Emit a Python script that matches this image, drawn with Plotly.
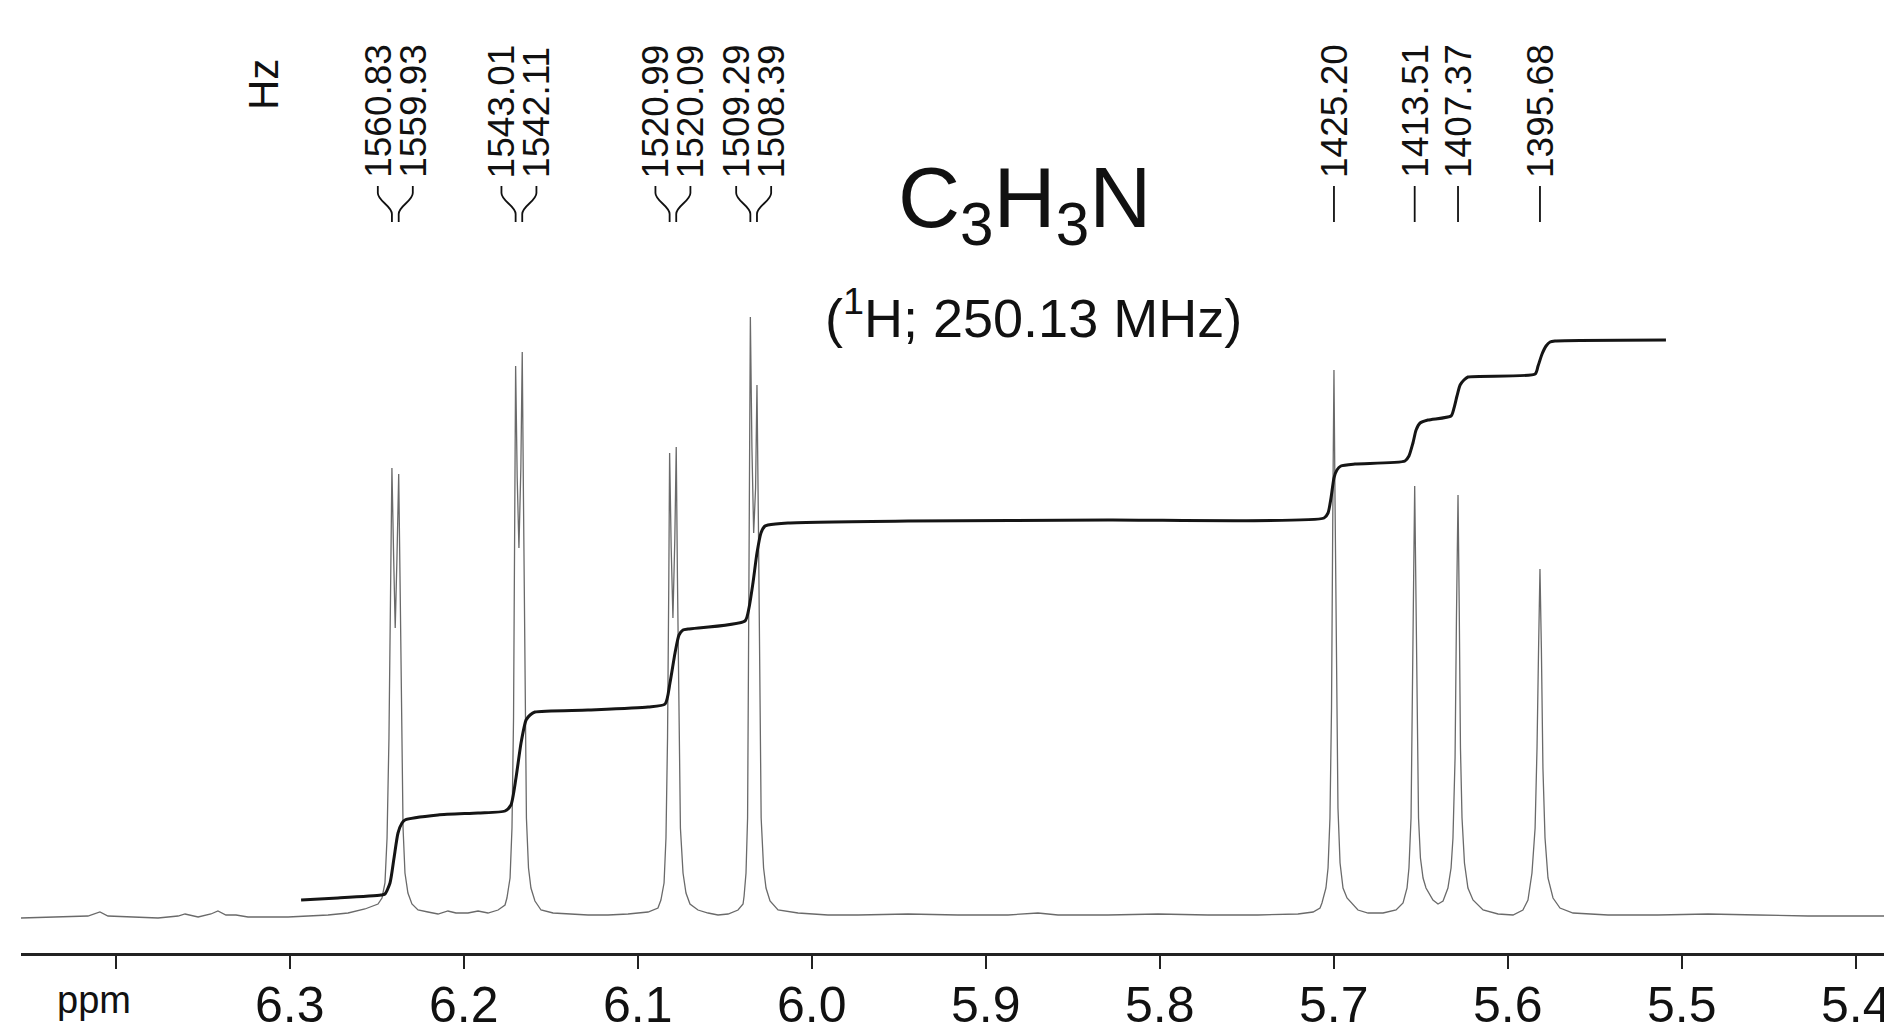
import plotly.graph_objects as go

# ---------------- data ----------------
# 1H spectrum trace: chemical shift (ppm) and intensity (arbitrary units, baseline = 0)
spectrum_ppm = [
    6.4548, 6.4278, 6.4163, 6.4094, 6.4048, 6.3760, 6.3645, 6.3605, 6.3530, 6.3456,
    6.3416, 6.3370, 6.3312, 6.3243, 6.3013, 6.2898, 6.2783, 6.2668, 6.2571, 6.2496,
    6.2473, 6.2456, 6.2444, 6.2433, 6.2424, 6.2416, 6.2406, 6.2397, 6.2387, 6.2377,
    6.2368, 6.2360, 6.2352, 6.2341, 6.2324, 6.2301, 6.2266,
    6.2209, 6.2151, 6.2094, 6.2048, 6.1979, 6.1921, 6.1864, 6.1806, 6.1766,
    6.1755, 6.1737, 6.1726, 6.1717, 6.1710, 6.1705, 6.1696, 6.1686, 6.1675, 6.1667,
    6.1660, 6.1651, 6.1643, 6.1631, 6.1617, 6.1594, 6.1559,
    6.1490, 6.1404, 6.1289, 6.1174, 6.1059, 6.0944, 6.0887,
    6.0870, 6.0852, 6.0841, 6.0832, 6.0825, 6.0820, 6.0811, 6.0801, 6.0790, 6.0782,
    6.0775, 6.0766, 6.0758, 6.0743, 6.0726, 6.0703, 6.0657,
    6.0599, 6.0542, 6.0484, 6.0427, 6.0398,
    6.0392, 6.0381, 6.0372, 6.0367, 6.0361, 6.0356, 6.0347, 6.0337, 6.0326, 6.0318,
    6.0310, 6.0302, 6.0294, 6.0280, 6.0266, 6.0243, 6.0197,
    6.0082, 5.9910, 5.9737, 5.9450, 5.9163, 5.8875, 5.8703, 5.8588, 5.8301, 5.8013,
    5.7726, 5.7439, 5.7209, 5.7122, 5.7082,
    5.7071, 5.7048, 5.7036, 5.7025, 5.7016, 5.7008, 5.7002, 5.6996, 5.6987, 5.6979,
    5.6967, 5.6950, 5.6927, 5.6893,
    5.6864, 5.6806, 5.6720, 5.6645, 5.6605, 5.6582,
    5.6571, 5.6559, 5.6551, 5.6544, 5.6538, 5.6532, 5.6525, 5.6516, 5.6505, 5.6490,
    5.6473, 5.6456,
    5.6433, 5.6404, 5.6375, 5.6347, 5.6329,
    5.6318, 5.6306, 5.6298, 5.6289, 5.6282, 5.6275, 5.6266, 5.6252, 5.6232, 5.6203,
    5.6145, 5.6059, 5.5973, 5.5916, 5.5887,
    5.5864, 5.5846, 5.5835, 5.5826, 5.5818, 5.5810, 5.5801, 5.5789, 5.5772, 5.5743,
    5.5703, 5.5628, 5.5427, 5.5140, 5.4852, 5.4565, 5.4278, 5.3990, 5.3749,
]
spectrum_int = [
    0, 1, 2, 6, 2, 0, 2, 4, 1, 4,
    7, 3, 3, 1, 1, 2, 3, 5, 9, 14,
    20, 35, 80, 180, 330, 450, 360, 290, 360, 444,
    320, 170, 90, 45, 25, 14, 8,
    6, 4, 7, 5, 5, 7, 5, 8, 13,
    20, 40, 90, 200, 370, 552, 440, 370, 450, 566,
    420, 220, 100, 50, 30, 17, 8,
    5, 4, 3, 3, 4, 6, 10,
    18, 35, 80, 180, 330, 465, 370, 300, 380, 471,
    340, 180, 90, 45, 25, 14, 8,
    5, 3, 4, 8, 14,
    22, 45, 100, 250, 420, 601, 470, 385, 430, 533,
    400, 200, 100, 50, 30, 17, 8,
    5, 3, 3, 4, 3, 3, 5, 3, 3, 4,
    3, 3, 4, 6, 10,
    15, 30, 50, 100, 210, 420, 548, 420, 220, 110,
    55, 30, 20, 14,
    8, 5, 5, 8, 15, 30,
    50, 100, 200, 340, 432, 330, 180, 100, 60, 40,
    30, 25,
    18, 14, 17, 30, 50,
    80, 160, 300, 423, 310, 170, 100, 55, 30, 18,
    8, 4, 3, 8, 18,
    45, 90, 170, 270, 349, 270, 150, 80, 40, 20,
    10, 5, 3, 3, 4, 3, 2, 2, 2,
]

# integral trace
integral_ppm = [
    6.2938, 6.2726, 6.2479, 6.2456, 6.2427, 6.2404, 6.2381, 6.2358, 6.2341, 6.2151,
    6.1921, 6.1766, 6.1732, 6.1703, 6.1674, 6.1645, 6.1622, 6.1594, 6.1289, 6.0944,
    6.0846, 6.0818, 6.0789, 6.0766, 6.0743, 6.0714, 6.0387, 6.0364, 6.0341, 6.0318,
    6.0295, 6.0272, 6.0255, 6.0140, 5.9450, 5.8301, 5.7059, 5.7036, 5.7019, 5.7002,
    5.6985, 5.6962, 5.6881, 5.6594, 5.6571, 5.6548, 5.6530, 5.6507, 5.6462, 5.6329,
    5.6312, 5.6295, 5.6277, 5.6255, 5.6232, 5.5846, 5.5829, 5.5806, 5.5783, 5.5760,
    5.5732, 5.5094,
]
integral_int = [
    18, 20, 23, 24, 35, 60, 85, 95, 98, 103,
    105, 107, 113, 140, 175, 198, 203, 206, 208, 211,
    214, 235, 265, 283, 288, 289, 297, 310, 335, 365,
    385, 392, 393, 395, 397, 398, 400, 405, 420, 440,
    448, 452, 454, 457, 462, 475, 488, 495, 498, 502,
    510, 522, 533, 538, 541, 544, 552, 564, 572, 576,
    577, 578,
]

# peak list (labels in Hz) and their positions on the ppm scale
peak_hz = ["1560.83", "1559.93", "1543.01", "1542.11", "1520.99", "1520.09",
           "1509.29", "1508.39", "1425.20", "1413.51", "1407.37", "1395.68"]
peak_ppm = [6.2416, 6.2377, 6.1705, 6.1667, 6.0820, 6.0782,
            6.0356, 6.0318, 5.7002, 5.6538, 5.6289, 5.5818]
peak_group = [0, 0, 1, 1, 2, 2, 3, 3, 4, 5, 6, 7]

tick_vals = [6.4, 6.3, 6.2, 6.1, 6.0, 5.9, 5.8, 5.7, 5.6, 5.5, 5.4]
tick_text = ["", "6.3", "6.2", "6.1", "6.0", "5.9", "5.8", "5.7", "5.6", "5.5", "5.4"]

title_text = "C<sub>3</sub>H<sub>3</sub>N"
subtitle_text = "(<sup>1</sup>H; 250.13 MHz)"

# ---------------- figure ----------------
FONT = "Liberation Sans, Arial, Helvetica, sans-serif"
X_RANGE = [6.45477, 5.37489]
Y_RANGE = [-35, 910]

fig = go.Figure()
fig.add_trace(go.Scatter(x=spectrum_ppm, y=spectrum_int, mode="lines",
                         line=dict(color="#6a6a6a", width=1.3),
                         hoverinfo="skip", showlegend=False))
fig.add_trace(go.Scatter(x=integral_ppm, y=integral_int, mode="lines",
                         line=dict(color="#151515", width=3, shape="spline", smoothing=0.6),
                         hoverinfo="skip", showlegend=False))

# label positions: pairs are spread apart, singles sit above their peak
HALF_GAP = 0.01005
label_ppm = []
for i, p in enumerate(peak_ppm):
    members = [j for j, g in enumerate(peak_group) if g == peak_group[i]]
    if len(members) == 2:
        centre = sum(peak_ppm[j] for j in members) / 2.0
        label_ppm.append(centre + HALF_GAP if i == members[0] else centre - HALF_GAP)
    else:
        label_ppm.append(p)

annotations = []
shapes = []
Y_TXT = 738
Y_TOP, Y_B1, Y_B2, Y_BOT = 732, 725, 704, 696
for lp, pp, txt in zip(label_ppm, peak_ppm, peak_hz):
    annotations.append(dict(x=lp, y=Y_TXT, xref="x", yref="y", text=txt,
                            textangle=-90, showarrow=False, xanchor="center",
                            yanchor="bottom",
                            font=dict(family=FONT, size=37, color="#111")))
    if abs(lp - pp) < 1e-9:
        path = f"M {lp},{Y_TOP} L {pp},{Y_BOT}"
    else:
        path = (f"M {lp},{Y_TOP} L {lp},{Y_B1} "
                f"C {lp},{Y_B1 - 8} {pp},{Y_B2 + 8} {pp},{Y_B2} "
                f"L {pp},{Y_BOT}")
    shapes.append(dict(type="path", xref="x", yref="y", path=path,
                       line=dict(color="#111", width=1.8)))

# x tick labels (placed on the ppm scale just under the axis)
for v, t in zip(tick_vals, tick_text):
    if t:
        annotations.append(dict(x=v, y=-0.0550, xref="x", yref="paper", text=t,
                                showarrow=False, xanchor="center", yanchor="middle",
                                font=dict(family=FONT, size=50, color="#111")))

annotations += [
    dict(x=0.1288, y=833, xref="paper", yref="y", text="Hz", textangle=-90,
         showarrow=False, xanchor="center", yanchor="middle",
         font=dict(family=FONT, size=42, color="#111")),
    dict(x=0.5343, y=715, xref="paper", yref="y", text=title_text,
         showarrow=False, xanchor="center", yanchor="middle",
         font=dict(family=FONT, size=86, color="#111")),
    dict(x=0.5386, y=604, xref="paper", yref="y", text=subtitle_text,
         showarrow=False, xanchor="center", yanchor="middle",
         font=dict(family=FONT, size=54, color="#111")),
    dict(x=0.0389, y=-0.0500, xref="paper", yref="paper", text="ppm",
         showarrow=False, xanchor="center", yanchor="middle",
         font=dict(family=FONT, size=38, color="#111")),
]

fig.update_layout(
    width=1892, height=1031,
    margin=dict(l=13, r=0, t=0, b=86, pad=0),
    paper_bgcolor="white", plot_bgcolor="white",
    showlegend=False,
    annotations=annotations, shapes=shapes,
    xaxis=dict(range=X_RANGE, showgrid=False, zeroline=False,
               showline=True, linecolor="#222", linewidth=3,
               ticks="outside", ticklen=13, tickwidth=2, tickcolor="#222",
               tickvals=tick_vals, showticklabels=False,
               automargin=False, fixedrange=True),
    yaxis=dict(range=Y_RANGE, visible=False, showgrid=False, zeroline=False,
               automargin=False, fixedrange=True),
)

fig.write_html("out.html")
